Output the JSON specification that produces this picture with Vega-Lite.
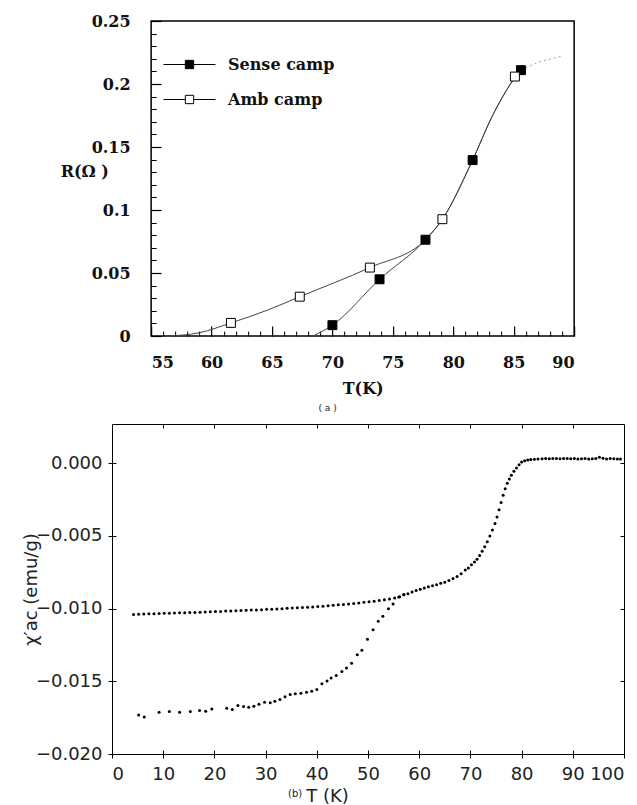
{
  "$schema": "https://vega.github.io/schema/vega-lite/v6.json",
  "background": "white",
  "padding": {"left": 21, "top": 12, "right": 0, "bottom": 0},
  "spacing": 9,
  "center": true,
  "config": {
    "axis": {"grid": false, "domain": false, "ticks": true, "tickColor": "black", "tickOpacity": 1, "labelColor": "#111", "titleColor": "#111", "zindex": 1},
    "title": {"color": "#222"}
  },
  "datasets": {
    "curves": [
      {"series": "Amb camp", "T": 56.4, "R": 0.0},
      {"series": "Amb camp", "T": 59.0, "R": 0.0026},
      {"series": "Amb camp", "T": 61.6, "R": 0.0104},
      {"series": "Amb camp", "T": 64.7, "R": 0.0208},
      {"series": "Amb camp", "T": 67.3, "R": 0.0312},
      {"series": "Amb camp", "T": 73.1, "R": 0.0543},
      {"series": "Amb camp", "T": 77.7, "R": 0.0764},
      {"series": "Amb camp", "T": 79.1, "R": 0.0927},
      {"series": "Amb camp", "T": 81.6, "R": 0.1396},
      {"series": "Amb camp", "T": 83.2, "R": 0.174},
      {"series": "Amb camp", "T": 84.4, "R": 0.195},
      {"series": "Amb camp", "T": 85.1, "R": 0.2059},
      {"series": "Sense camp", "T": 68.4, "R": 0.0},
      {"series": "Sense camp", "T": 70.0, "R": 0.0086},
      {"series": "Sense camp", "T": 73.9, "R": 0.045},
      {"series": "Sense camp", "T": 77.7, "R": 0.0764},
      {"series": "Sense camp", "T": 79.1, "R": 0.0927},
      {"series": "Sense camp", "T": 81.6, "R": 0.1396},
      {"series": "Sense camp", "T": 83.2, "R": 0.174},
      {"series": "Sense camp", "T": 84.4, "R": 0.195},
      {"series": "Sense camp", "T": 85.6, "R": 0.211}
    ],
    "tail": [
      {"T": 85.6, "R": 0.211},
      {"T": 87.2, "R": 0.218},
      {"T": 89.0, "R": 0.222}
    ],
    "markers": [
      {"series": "Sense camp", "T": 70.0, "R": 0.0086},
      {"series": "Sense camp", "T": 73.9, "R": 0.045},
      {"series": "Sense camp", "T": 77.7, "R": 0.0764},
      {"series": "Sense camp", "T": 81.6, "R": 0.1396},
      {"series": "Sense camp", "T": 85.6, "R": 0.211},
      {"series": "Amb camp", "T": 61.6, "R": 0.0104},
      {"series": "Amb camp", "T": 67.3, "R": 0.0312},
      {"series": "Amb camp", "T": 73.1, "R": 0.0543},
      {"series": "Amb camp", "T": 79.1, "R": 0.0927},
      {"series": "Amb camp", "T": 85.1, "R": 0.2059}
    ],
    "chi": [
      {"T": 4.2, "chi": -0.01040}, {"T": 5.2, "chi": -0.01038}, {"T": 6.2, "chi": -0.01037}, {"T": 7.2, "chi": -0.01036},
      {"T": 8.2, "chi": -0.01035}, {"T": 9.2, "chi": -0.01034}, {"T": 10.2, "chi": -0.01032}, {"T": 11.2, "chi": -0.01031},
      {"T": 12.2, "chi": -0.01030}, {"T": 13.2, "chi": -0.01029}, {"T": 14.2, "chi": -0.01028}, {"T": 15.2, "chi": -0.01027},
      {"T": 16.2, "chi": -0.01026}, {"T": 17.2, "chi": -0.01025}, {"T": 18.2, "chi": -0.01024}, {"T": 19.2, "chi": -0.01022},
      {"T": 20.2, "chi": -0.01020}, {"T": 21.2, "chi": -0.01019}, {"T": 22.2, "chi": -0.01017}, {"T": 23.2, "chi": -0.01016},
      {"T": 24.2, "chi": -0.01015}, {"T": 25.2, "chi": -0.01013}, {"T": 26.2, "chi": -0.01012}, {"T": 27.2, "chi": -0.01010},
      {"T": 28.2, "chi": -0.01009}, {"T": 29.2, "chi": -0.01007}, {"T": 30.2, "chi": -0.01005}, {"T": 31.2, "chi": -0.01004},
      {"T": 32.2, "chi": -0.01002}, {"T": 33.2, "chi": -0.01000}, {"T": 34.2, "chi": -0.00998}, {"T": 35.2, "chi": -0.00996},
      {"T": 36.2, "chi": -0.00994}, {"T": 37.2, "chi": -0.00992}, {"T": 38.2, "chi": -0.00990}, {"T": 39.2, "chi": -0.00988},
      {"T": 40.2, "chi": -0.00985}, {"T": 41.2, "chi": -0.00983}, {"T": 42.2, "chi": -0.00980}, {"T": 43.2, "chi": -0.00977},
      {"T": 44.2, "chi": -0.00974}, {"T": 45.2, "chi": -0.00971}, {"T": 46.2, "chi": -0.00968}, {"T": 47.2, "chi": -0.00965},
      {"T": 48.2, "chi": -0.00961}, {"T": 49.2, "chi": -0.00957}, {"T": 50.2, "chi": -0.00953}, {"T": 51.2, "chi": -0.00949},
      {"T": 52.2, "chi": -0.00944}, {"T": 53.2, "chi": -0.00939}, {"T": 54.2, "chi": -0.00933}, {"T": 55.2, "chi": -0.00927},
      {"T": 56.2, "chi": -0.00918}, {"T": 57.0, "chi": -0.00905}, {"T": 57.8, "chi": -0.00898}, {"T": 58.6, "chi": -0.00885},
      {"T": 59.4, "chi": -0.00875}, {"T": 60.2, "chi": -0.00866}, {"T": 61.0, "chi": -0.00858}, {"T": 61.8, "chi": -0.00850},
      {"T": 62.6, "chi": -0.00843}, {"T": 63.4, "chi": -0.00836}, {"T": 64.2, "chi": -0.00826}, {"T": 65.0, "chi": -0.00818},
      {"T": 65.8, "chi": -0.00806}, {"T": 66.6, "chi": -0.00792}, {"T": 67.4, "chi": -0.00779}, {"T": 68.2, "chi": -0.00760},
      {"T": 69.0, "chi": -0.00735}, {"T": 69.6, "chi": -0.00720}, {"T": 70.2, "chi": -0.00698}, {"T": 70.8, "chi": -0.00680},
      {"T": 71.3, "chi": -0.00660}, {"T": 71.8, "chi": -0.00635}, {"T": 72.3, "chi": -0.00605}, {"T": 72.8, "chi": -0.00575},
      {"T": 73.3, "chi": -0.00540}, {"T": 73.8, "chi": -0.00500}, {"T": 74.3, "chi": -0.00460}, {"T": 74.8, "chi": -0.00415},
      {"T": 75.2, "chi": -0.00370}, {"T": 75.6, "chi": -0.00320}, {"T": 76.0, "chi": -0.00270}, {"T": 76.4, "chi": -0.00220},
      {"T": 76.8, "chi": -0.00175}, {"T": 77.2, "chi": -0.00138}, {"T": 77.6, "chi": -0.00108}, {"T": 78.0, "chi": -0.00082},
      {"T": 78.5, "chi": -0.00055}, {"T": 79.0, "chi": -0.00032}, {"T": 79.5, "chi": -0.00010}, {"T": 80.0, "chi": 0.00008},
      {"T": 80.6, "chi": 0.00017}, {"T": 81.2, "chi": 0.00022}, {"T": 81.8, "chi": 0.00026}, {"T": 82.5, "chi": 0.00028},
      {"T": 83.2, "chi": 0.00030}, {"T": 84.0, "chi": 0.00031}, {"T": 84.7, "chi": 0.00032}, {"T": 85.4, "chi": 0.00031},
      {"T": 86.1, "chi": 0.00033}, {"T": 86.8, "chi": 0.00032}, {"T": 87.5, "chi": 0.00031}, {"T": 88.2, "chi": 0.00033},
      {"T": 88.9, "chi": 0.00032}, {"T": 89.6, "chi": 0.00031}, {"T": 90.3, "chi": 0.00032}, {"T": 91.0, "chi": 0.00030},
      {"T": 91.7, "chi": 0.00031}, {"T": 92.4, "chi": 0.00032}, {"T": 93.1, "chi": 0.00030}, {"T": 93.8, "chi": 0.00031},
      {"T": 94.5, "chi": 0.00033}, {"T": 95.2, "chi": 0.00042}, {"T": 95.9, "chi": 0.00035}, {"T": 96.6, "chi": 0.00030},
      {"T": 97.3, "chi": 0.00032}, {"T": 98.0, "chi": 0.00031}, {"T": 98.7, "chi": 0.00030}, {"T": 99.3, "chi": 0.00029},
      {"T": 5.2, "chi": -0.01731}, {"T": 6.3, "chi": -0.01745}, {"T": 9.2, "chi": -0.01713}, {"T": 11.2, "chi": -0.01708},
      {"T": 13.2, "chi": -0.01713}, {"T": 15.3, "chi": -0.01708}, {"T": 17.1, "chi": -0.01701}, {"T": 18.3, "chi": -0.01706},
      {"T": 19.5, "chi": -0.01690}, {"T": 22.4, "chi": -0.01685}, {"T": 23.5, "chi": -0.01694}, {"T": 24.6, "chi": -0.01667},
      {"T": 25.7, "chi": -0.01674}, {"T": 26.7, "chi": -0.01678}, {"T": 27.7, "chi": -0.01671}, {"T": 28.7, "chi": -0.01657},
      {"T": 29.8, "chi": -0.01644}, {"T": 30.9, "chi": -0.01648}, {"T": 31.8, "chi": -0.01637}, {"T": 32.8, "chi": -0.01625},
      {"T": 33.8, "chi": -0.01607}, {"T": 34.8, "chi": -0.01591}, {"T": 35.8, "chi": -0.01586}, {"T": 36.9, "chi": -0.01582},
      {"T": 38.0, "chi": -0.01575}, {"T": 39.0, "chi": -0.01568}, {"T": 40.0, "chi": -0.01556}, {"T": 41.0, "chi": -0.01517},
      {"T": 42.0, "chi": -0.01497}, {"T": 42.8, "chi": -0.01478}, {"T": 43.8, "chi": -0.01460}, {"T": 44.9, "chi": -0.01432},
      {"T": 45.8, "chi": -0.01409}, {"T": 46.8, "chi": -0.01375}, {"T": 47.9, "chi": -0.01317}, {"T": 48.8, "chi": -0.01287},
      {"T": 49.9, "chi": -0.01211}, {"T": 51.0, "chi": -0.01145}, {"T": 52.0, "chi": -0.01087}, {"T": 52.9, "chi": -0.01053},
      {"T": 54.0, "chi": -0.01000}, {"T": 54.9, "chi": -0.00968}, {"T": 56.0, "chi": -0.00920}, {"T": 57.0, "chi": -0.00903}
    ]
  },
  "vconcat": [
    {
      "width": 423,
      "height": 315,
      "view": {"stroke": "black", "strokeWidth": 1.5},
      "title": {"text": "( a )", "orient": "bottom", "anchor": "middle", "dx": -35, "offset": 8, "fontSize": 9, "font": "DejaVu Sans", "fontWeight": "normal"},
      "layer": [
        {
          "data": {"name": "curves"},
          "mark": {"type": "line", "interpolate": "monotone", "stroke": "#444", "strokeWidth": 1},
          "encoding": {
            "x": {"field": "T", "type": "quantitative", "scale": {"domain": [55, 90], "nice": false, "zero": false},
              "axis": {"orient": "bottom", "values": [55, 60, 65, 70, 75, 80, 85, 90], "offset": -10, "ticks": true, "tickSize": 10, "tickWidth": 1.2,
                "labelPadding": 18, "labelFont": "DejaVu Serif", "labelFontWeight": "bold", "labelFontSize": 16,
                "title": "T(K)", "titleFont": "DejaVu Serif", "titleFontWeight": "bold", "titleFontSize": 16, "titlePadding": 10}},
            "y": {"field": "R", "type": "quantitative", "scale": {"domain": [0, 0.25], "nice": false},
              "axis": {"orient": "left", "values": [0, 0.05, 0.1, 0.15, 0.2, 0.25], "format": "~g", "offset": -10, "ticks": true, "tickSize": 10, "tickWidth": 1.2,
                "labelPadding": 21, "labelFont": "DejaVu Serif", "labelFontWeight": "bold", "labelFontSize": 16,
                "title": "R(Ω )", "titleFont": "DejaVu Serif", "titleFontWeight": "bold", "titleFontSize": 16,
                "titleAngle": 0, "titleAlign": "left", "titleBaseline": "middle", "titleX": -101, "titleY": 150}},
            "detail": {"field": "series"}
          }
        },
        {
          "data": {"name": "tail"},
          "mark": {"type": "line", "stroke": "#999", "strokeWidth": 1, "strokeDash": [2, 3]},
          "encoding": {
            "x": {"field": "T", "type": "quantitative", "axis": null},
            "y": {"field": "R", "type": "quantitative",
              "axis": {"orient": "right", "ticks": false, "labels": false, "title": null, "minExtent": 11, "maxExtent": 11}}
          }
        },
        {
          "data": {"name": "markers"},
          "mark": {"type": "point", "shape": "square", "filled": true, "size": 80, "stroke": "black", "strokeWidth": 1, "opacity": 1},
          "encoding": {
            "x": {"field": "T", "type": "quantitative",
              "axis": {"orient": "bottom", "values": [56,57,58,59,61,62,63,64,66,67,68,69,71,72,73,74,76,77,78,79,81,82,83,84,86,87,88,89],
                "offset": -5, "ticks": true, "tickSize": 5, "labels": false, "title": null}},
            "y": {"field": "R", "type": "quantitative",
              "axis": {"orient": "left", "values": [0.01,0.02,0.03,0.04,0.06,0.07,0.08,0.09,0.11,0.12,0.13,0.14,0.16,0.17,0.18,0.19,0.21,0.22,0.23,0.24],
                "offset": -5, "ticks": true, "tickSize": 5, "labels": false, "title": null}},
            "fill": {"field": "series", "type": "nominal",
              "scale": {"domain": ["Sense camp", "Amb camp"], "range": ["black", "white"]},
              "legend": {"orient": "none", "legendX": 51, "legendY": 17, "title": null,
                "symbolType": "M-1,0H-0.16M0.16,0H1M-0.16,-0.16H0.16V0.16H-0.16Z", "symbolSize": 2704,
                "symbolStrokeColor": "black", "symbolStrokeWidth": 1, "symbolOpacity": 1,
                "labelFont": "DejaVu Serif", "labelFontWeight": "bold", "labelFontSize": 16, "labelColor": "#111",
                "labelOffset": 12, "rowPadding": -3}}
          }
        }
      ],
      "resolve": {"axis": {"x": "independent", "y": "independent"}}
    },
    {
      "width": 512,
      "height": 330,
      "view": {"stroke": "black", "strokeWidth": 1},
      "title": {"text": "(b)", "orient": "bottom", "anchor": "start", "frame": "group", "dx": 176, "offset": -16, "fontSize": 10, "font": "DejaVu Sans", "fontWeight": "normal"},
      "layer": [
        {
          "mark": {"type": "rule", "stroke": "black", "strokeWidth": 1.2},
          "encoding": {
            "x": {"datum": 0, "type": "quantitative", "scale": {"domain": [0, 100], "nice": false},
              "axis": {"orient": "top", "values": [10, 20, 30, 40, 50, 60, 70, 80, 90], "offset": -4, "ticks": true, "tickSize": 4, "labels": false, "title": null}},
            "x2": {"datum": 100},
            "y": {"datum": 0, "type": "quantitative", "scale": {"domain": [-0.02, 0.0027], "nice": false, "zero": false},
              "axis": {"orient": "right", "values": [0, -0.005, -0.01, -0.015], "offset": -4, "ticks": true, "tickSize": 4, "labels": false, "title": null}}
          }
        },
        {
          "data": {"name": "chi"},
          "mark": {"type": "circle", "size": 9, "color": "black", "opacity": 1},
          "encoding": {
            "x": {"field": "T", "type": "quantitative",
              "axis": {"orient": "bottom", "values": [0, 10, 20, 30, 40, 50, 60, 70, 80, 90, 100], "offset": -4, "ticks": true, "tickSize": 8,
                "labelPadding": 7, "labelFont": "DejaVu Sans", "labelFontWeight": "normal", "labelFontSize": 18, "labelColor": "#222",
                "title": "T (K)", "titleFont": "DejaVu Sans", "titleFontWeight": "normal", "titleFontSize": 18, "titleColor": "#222",
                "titleX": 215, "titleY": 46, "titleAlign": "center", "titleBaseline": "middle"}},
            "y": {"field": "chi", "type": "quantitative",
              "axis": {"orient": "left", "values": [0, -0.005, -0.01, -0.015, -0.02], "format": ".3f", "offset": -4, "ticks": true, "tickSize": 8,
                "labelPadding": 6, "labelFont": "DejaVu Sans", "labelFontWeight": "normal", "labelFontSize": 18, "labelColor": "#222",
                "title": "χ′ac (emu/g)", "titleFont": "DejaVu Sans", "titleFontWeight": "normal", "titleFontSize": 18, "titleColor": "#222",
                "titleX": -85, "titleY": 165, "titleAlign": "center", "titleBaseline": "middle"}}
          }
        }
      ],
      "resolve": {"axis": {"x": "independent", "y": "independent"}}
    }
  ]
}
